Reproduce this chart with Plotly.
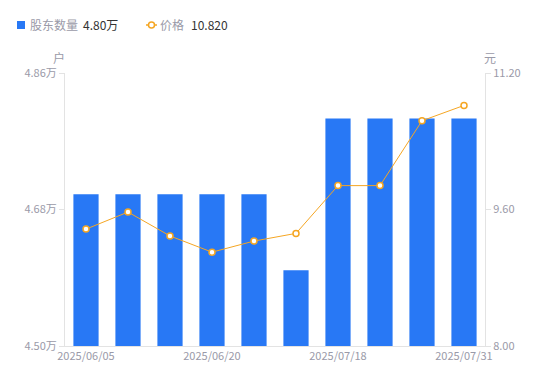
import plotly.graph_objects as go

dates = ["2025/06/05", "2025/06/10", "2025/06/13", "2025/06/20", "2025/06/30",
         "2025/07/10", "2025/07/18", "2025/07/22", "2025/07/25", "2025/07/31"]
holders = [4.70, 4.70, 4.70, 4.70, 4.70, 4.60, 4.80, 4.80, 4.80, 4.80]  # 万户
price = [9.37, 9.57, 9.29, 9.10, 9.23, 9.32, 9.88, 9.88, 10.64, 10.82]
xtick_labels = ["2025/06/05", "2025/06/20", "2025/07/18", "2025/07/31"]
left_ticks = [4.50, 4.68, 4.86]
right_ticks = [8.00, 9.60, 11.20]

FONT = "Noto Sans CJK SC, sans-serif"
GRAY = "#9a9aa8"
AXIS = "#e3e3e3"
BLUE = "#2878f5"
ORANGE = "#f5a623"
DARK = "#333333"

# plot area in window pixels: x 65..485, y 73..346 (page body has an 8px margin)
def px(x):
    return (x - 65) / 420.0

def py(y):
    return (346 - y) / 273.0

fig = go.Figure()
fig.add_trace(go.Bar(
    x=dates, y=holders, marker=dict(color=BLUE, line=dict(width=0)),
    name="股东数量", yaxis="y", showlegend=False,
))
fig.add_trace(go.Scatter(
    x=dates, y=price, mode="lines+markers",
    line=dict(color=ORANGE, width=1),
    marker=dict(size=6, color="white", line=dict(color=ORANGE, width=1.5)),
    name="价格", yaxis="y2", showlegend=False,
))

def ann(text, x, y, color, size=12, xanchor="left"):
    return dict(text=text, xref="paper", yref="paper", x=x, y=y, xanchor=xanchor,
                yanchor="middle", showarrow=False, font=dict(size=size, color=color))

LY = 25
annotations = [
    ann("股东数量", px(28), py(LY), GRAY),
    ann(f"{holders[-1]:.2f}万", px(81), py(LY), DARK),
    ann("价格", px(158), py(LY), GRAY),
    ann(f"{price[-1]:.3f}", px(189), py(LY), DARK),
    ann("户", px(59), py(57), GRAY, xanchor="center"),
    ann("元", px(490), py(57), GRAY, xanchor="center"),
]

shapes = [
    dict(type="rect", xref="paper", yref="paper", x0=px(17), x1=px(25), y0=py(29), y1=py(21),
         fillcolor=BLUE, line=dict(width=0)),
    dict(type="line", xref="paper", yref="paper", x0=px(146), x1=px(157), y0=py(LY), y1=py(LY),
         line=dict(color=ORANGE, width=1.5)),
    dict(type="circle", xref="paper", yref="paper", x0=px(148.5), x1=px(154.5), y0=py(LY + 3), y1=py(LY - 3),
         fillcolor="white", line=dict(color=ORANGE, width=1.5)),
]

fig.update_layout(
    width=534, height=365, autosize=False,
    margin=dict(l=57, r=57, t=65, b=27, autoexpand=False),
    paper_bgcolor="white", plot_bgcolor="white",
    font=dict(family=FONT, size=11, color=GRAY),
    bargap=0.4,
    showlegend=False,
    xaxis=dict(type="category", range=[-0.5, len(dates) - 0.5], autorange=False,
               tickmode="array", tickvals=xtick_labels, ticktext=xtick_labels,
               showline=True, linecolor=AXIS, ticks="", showgrid=False,
               tickfont=dict(size=11, color=GRAY)),
    yaxis=dict(range=[4.50, 4.86], tickvals=left_ticks,
               ticktext=[f"{v:.2f}万" for v in left_ticks],
               showline=True, linecolor=AXIS, ticks="outside", ticklen=5, tickcolor=AXIS,
               showgrid=False, zeroline=False, tickfont=dict(size=11, color=GRAY)),
    yaxis2=dict(range=[8.0, 11.2], tickvals=right_ticks,
                ticktext=[f"{v:.2f}" for v in right_ticks],
                overlaying="y", side="right",
                showline=True, linecolor=AXIS, ticks="outside", ticklen=5, tickcolor=AXIS,
                showgrid=False, zeroline=False, tickfont=dict(size=11, color=GRAY)),
    annotations=annotations,
    shapes=shapes,
)

fig.write_html("out.html")
